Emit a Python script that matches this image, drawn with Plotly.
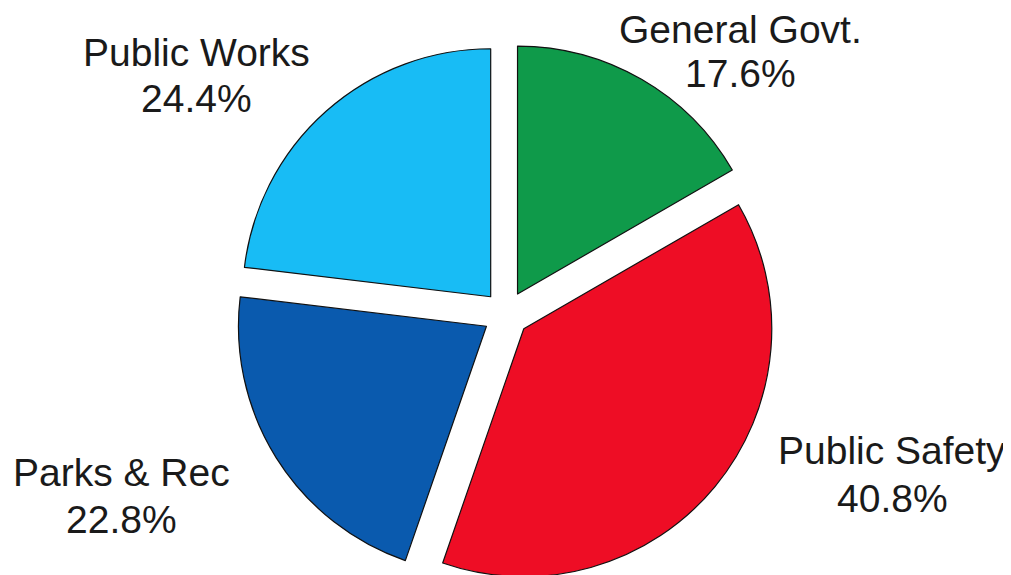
import plotly.graph_objects as go

categories = ["General Govt.", "Public Safety", "Parks & Rec", "Public Works"]
values = [17.6, 40.8, 22.8, 24.4]
colors = ["#0f9a4a", "#ee0d25", "#0a5aae", "#18bcf5"]

# Page body has the browser's default 8px margin; work in window pixels.
OFF = 8
W, H = 1011, 600          # figure size (bottom part falls outside the 575px window)

def fx(px):
    return (px - OFF) / W

def fy(py):
    return 1 - (py - OFF) / H

# pie geometry in window pixels
CX, CY, R, PULL = 506, 314, 248, 0.093
half = R * (1 + PULL)

# label positions in window pixels: (x center, line-1 middle, line-2 middle)
label_px = {
    "General Govt.": (740, 30, 74),
    "Public Safety": (892, 450, 498),
    "Parks & Rec": (121, 472, 519),
    "Public Works": (196, 53, 98),
}

fig = go.Figure(
    go.Pie(
        labels=categories,
        values=values,
        sort=False,
        direction="clockwise",
        rotation=0,
        pull=[PULL] * len(values),
        marker=dict(colors=colors, line=dict(color="#111111", width=1.2)),
        textinfo="none",
        hoverinfo="label+value",
        showlegend=False,
        domain=dict(
            x=[fx(CX - half - 20), fx(CX + half + 20)],
            y=[fy(CY + half), fy(CY - half)],
        ),
    )
)

font = dict(family="Liberation Sans, Arial, sans-serif", size=39, color="#1a1a1a")
annotations = []
for cat, val in zip(categories, values):
    px, py1, py2 = label_px[cat]
    for txt, py in ((cat, py1), (f"{val:.1f}%", py2)):
        annotations.append(
            dict(
                text=txt,
                x=fx(px),
                y=fy(py),
                xref="paper",
                yref="paper",
                xanchor="center",
                yanchor="middle",
                showarrow=False,
                align="center",
                font=font,
            )
        )

fig.update_layout(
    width=W,
    height=H,
    margin=dict(l=0, r=0, t=0, b=0),
    paper_bgcolor="white",
    plot_bgcolor="white",
    annotations=annotations,
)

fig.write_html("out.html")
